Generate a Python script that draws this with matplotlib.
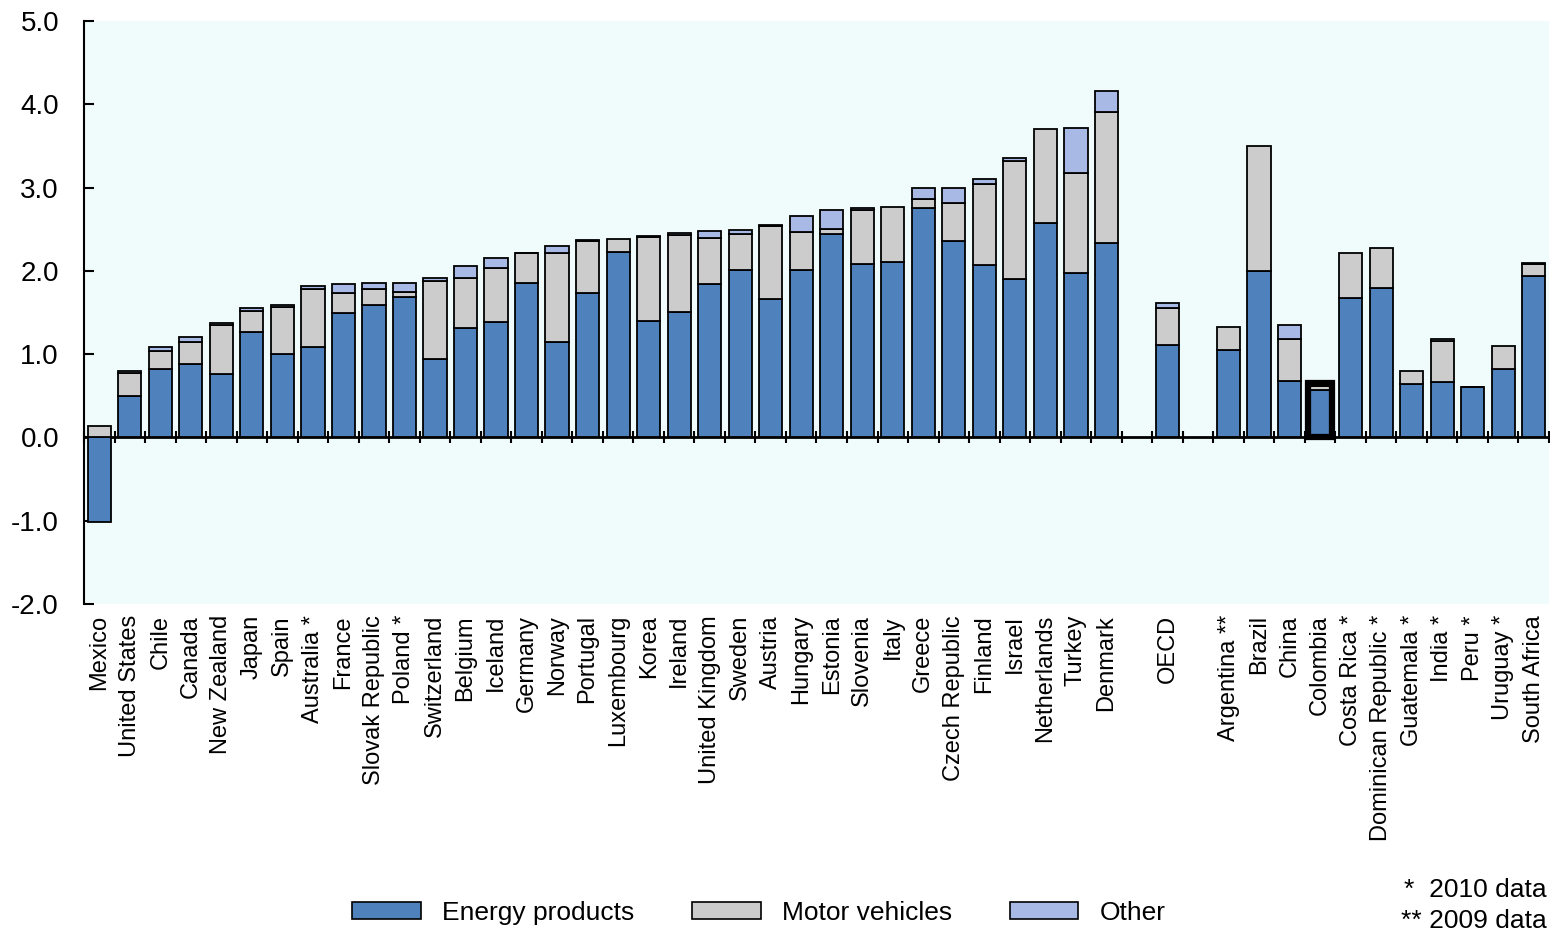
import numpy as np
import matplotlib
matplotlib.use("Agg")
from matplotlib import pyplot as plt
from matplotlib.patches import Patch
from matplotlib import font_manager

# OECD countries, OECD average, partner countries
oecd_countries = ["Mexico", "United States", "Chile", "Canada", "New Zealand", "Japan", "Spain",
                  "Australia *", "France", "Slovak Republic", "Poland *", "Switzerland", "Belgium",
                  "Iceland", "Germany", "Norway", "Portugal", "Luxembourg", "Korea", "Ireland",
                  "United Kingdom", "Sweden", "Austria", "Hungary", "Estonia", "Slovenia", "Italy",
                  "Greece", "Czech Republic", "Finland", "Israel", "Netherlands", "Turkey", "Denmark"]
oecd_energy = [-1.02, 0.50, 0.82, 0.88, 0.76, 1.27, 1.00, 1.08, 1.50, 1.59, 1.69, 0.94, 1.31,
               1.38, 1.85, 1.15, 1.74, 2.23, 1.40, 1.51, 1.84, 2.01, 1.66, 2.01, 2.44, 2.08, 2.11,
               2.75, 2.36, 2.07, 1.90, 2.57, 1.97, 2.33]
oecd_motor = [0.14, 0.27, 0.22, 0.26, 0.59, 0.25, 0.57, 0.70, 0.24, 0.19, 0.06, 0.94, 0.61,
              0.65, 0.36, 1.07, 0.62, 0.15, 1.01, 0.92, 0.55, 0.43, 0.88, 0.46, 0.06, 0.65, 0.66,
              0.11, 0.45, 0.97, 1.42, 1.13, 1.21, 1.58]
oecd_other = [0.0, 0.03, 0.04, 0.06, 0.02, 0.04, 0.02, 0.04, 0.10, 0.07, 0.10, 0.03, 0.14,
              0.12, 0.01, 0.08, 0.01, 0.0, 0.01, 0.03, 0.09, 0.05, 0.01, 0.19, 0.23, 0.03, 0.0,
              0.13, 0.18, 0.06, 0.04, 0.0, 0.53, 0.25]

avg_label = ["OECD"]
avg_energy = [1.11]
avg_motor = [0.45]
avg_other = [0.05]

partner_countries = ["Argentina **", "Brazil", "China", "Colombia", "Costa Rica *",
                     "Dominican Republic *", "Guatemala *", "India *", "Peru *", "Uruguay *",
                     "South Africa"]
partner_energy = [1.05, 2.00, 0.68, 0.57, 1.67, 1.80, 0.64, 0.66, 0.60, 0.82, 1.94]
partner_motor = [0.27, 1.50, 0.50, 0.05, 0.55, 0.48, 0.16, 0.50, 0.0, 0.28, 0.14]
partner_other = [0.0, 0.0, 0.17, 0.03, 0.0, 0.0, 0.0, 0.02, 0.0, 0.0, 0.01]

highlight = "Colombia"
series_names = ["Energy products", "Motor vehicles", "Other"]
colors = ["#4F81BD", "#CCCCCC", "#A7B9E4"]
notes = ["*  2010 data", "** 2009 data"]

# positions with one empty slot between groups
n1, n2 = len(oecd_countries), len(partner_countries)
pos = np.concatenate([np.arange(n1), [n1 + 1], np.arange(n2) + n1 + 3])
labels = oecd_countries + avg_label + partner_countries
energy = np.array(oecd_energy + avg_energy + partner_energy)
motor = np.array(oecd_motor + avg_motor + partner_motor)
other = np.array(oecd_other + avg_other + partner_other)

names = {f.name for f in font_manager.fontManager.ttflist}
base_font = "Liberation Sans" if "Liberation Sans" in names else "DejaVu Sans"
plt.rcParams["font.family"] = base_font

fig = plt.figure(figsize=(15.5, 9.34), dpi=100)
ax = fig.add_axes([84 / 1550, 1 - 604 / 934, 1465 / 1550, 583 / 934])
ax.set_facecolor("#F0FBFB")

w = 0.76
# energy can be negative (Mexico); motor stacks from 0 where energy < 0
motor_base = np.where(energy > 0, energy, 0)
other_base = motor_base + motor
ax.bar(pos, energy, w, color=colors[0], edgecolor="black", linewidth=1.3, zorder=2)
ax.bar(pos, motor, w, bottom=motor_base, color=colors[1], edgecolor="black", linewidth=1.3, zorder=2)
mask = other > 0
ax.bar(pos[mask], other[mask], w, bottom=other_base[mask], color=colors[2], edgecolor="black",
       linewidth=1.3, zorder=2)

# highlighted bar
hi = labels.index(highlight)
ax.bar(pos[hi], other_base[hi] + other[hi], w, fill=False, edgecolor="black", linewidth=4.5, zorder=3)

ax.set_xlim(-0.5, pos[-1] + 0.5)
ax.set_ylim(-2, 5)
ax.set_yticks(np.arange(-2, 6, 1))
ax.set_yticklabels(["%.1f" % v for v in np.arange(-2, 6, 1)], fontsize=20)
ax.tick_params(axis="y", direction="in", length=7, width=1.5, pad=18)

ax.set_xticks(pos)
ax.set_xticklabels(labels, rotation=90, fontsize=17)
ax.tick_params(axis="x", length=0, pad=8)

for s in ["top", "right", "bottom"]:
    ax.spines[s].set_visible(False)
ax.spines["left"].set_linewidth(1.5)

# zero line with small ticks at bar boundaries
zero_axis = ax.secondary_xaxis(2 / 7)
zero_axis.set_xticks(np.arange(-0.5, pos[-1] + 1, 1))
zero_axis.set_xticklabels([])
zero_axis.tick_params(direction="inout", length=8, width=1.5)
zero_axis.spines["bottom"].set_linewidth(2)

handles = [Patch(facecolor=c, edgecolor="black", linewidth=1.2) for c in colors]
fig.legend(handles, series_names, loc="center", bbox_to_anchor=(0.4895, 1 - 913 / 934), ncol=3,
           frameon=False, fontsize=19, handlelength=2.6, handleheight=0.6, columnspacing=2.2,
           handletextpad=0.8)

fig.text(0.998, 1 - 890 / 934, notes[0], ha="right", va="center", fontsize=19)
fig.text(0.998, 1 - 921 / 934, notes[1], ha="right", va="center", fontsize=19)

fig.savefig("out.png", dpi=100)
